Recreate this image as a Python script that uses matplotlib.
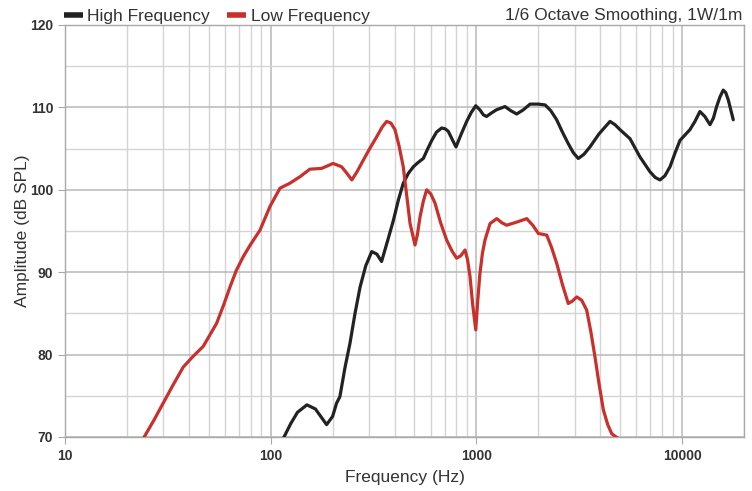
import numpy as np
import matplotlib.pyplot as plt
from matplotlib.ticker import FixedLocator, NullFormatter

plt.rcParams['font.family'] = ['Liberation Sans', 'DejaVu Sans']

# Low frequency driver
lf_freq = [24.0, 27, 30.0, 33.5, 37.6, 42, 47.0, 54.6, 59, 63.4, 68, 73.6, 80, 88.7, 99.3,
           111, 124, 139, 155, 177, 201, 221, 233, 248, 263, 282, 303, 327, 348, 366,
           384, 402, 421, 441, 460, 476, 503, 517, 532, 552, 573, 600, 629, 670, 717,
           760, 802, 840, 881, 906, 931, 960, 993, 1015, 1040, 1070, 1101, 1165, 1256,
           1330, 1404, 1580, 1757, 1880, 2001, 2198, 2320, 2456, 2620, 2797, 2930, 3075,
           3250, 3438, 3600, 3773, 3950, 4142, 4350, 4550, 4900]
lf_db = [69.8, 72.0, 74.1, 76.3, 78.5, 79.8, 81.0, 83.8, 86.0, 88.2, 90.2, 91.9, 93.4, 95.1, 98.0,
         100.2, 100.8, 101.6, 102.5, 102.6, 103.2, 102.8, 102.1, 101.2, 102.2, 103.6, 105.0, 106.4, 107.6, 108.3,
         108.1, 107.3, 105.3, 102.8, 99.0, 95.9, 93.3, 94.6, 96.7, 98.6, 100.0, 99.5, 98.4, 96.0, 93.9,
         92.6, 91.7, 92.0, 92.7, 91.5, 89.5, 86.0, 83.0, 86.5, 89.8, 92.3, 93.9, 95.9, 96.5,
         96.0, 95.7, 96.1, 96.5, 95.7, 94.7, 94.5, 93.0, 91.1, 88.5, 86.2, 86.5, 87.0,
         86.6, 85.4, 82.8, 79.7, 76.4, 73.3, 71.5, 70.4, 69.8]

# High frequency driver
hf_freq = [115, 125, 135, 150, 165, 187, 200, 209, 217, 230, 243, 257, 272, 290, 310,
           328, 346, 370, 395, 418, 441, 467, 494, 520, 552, 578, 607, 640, 678, 705,
           730, 760, 796, 845, 897, 945, 993, 1040, 1081, 1121, 1180, 1250, 1377, 1470,
           1570, 1690, 1824, 2000, 2159, 2300, 2456, 2620, 2797, 2960, 3128, 3330, 3565,
           3950, 4463, 4720, 4990, 5583, 6237, 6977, 7400, 7810, 8250, 8738, 9250, 9770,
           10920, 11550, 12210, 12900, 13670, 14200, 14720, 15300, 15850, 16300, 16780,
           17250, 17730]
hf_db = [69.8, 71.6, 73.0, 73.9, 73.4, 71.5, 72.5, 74.1, 74.9, 78.5, 81.4, 85.0, 88.2, 90.8, 92.5,
         92.2, 91.3, 93.8, 96.3, 98.8, 100.8, 102.0, 102.8, 103.3, 103.8, 104.9, 106.0, 107.0, 107.5, 107.4,
         107.1, 106.2, 105.2, 106.8, 108.3, 109.4, 110.2, 109.7, 109.1, 108.9, 109.3, 109.7, 110.1, 109.6,
         109.2, 109.7, 110.4, 110.4, 110.3, 109.6, 108.5, 107.0, 105.6, 104.5, 103.8, 104.3, 105.2,
         106.8, 108.3, 107.9, 107.3, 106.2, 104.0, 102.2, 101.5, 101.2, 101.7, 102.8, 104.5, 106.0,
         107.3, 108.3, 109.5, 108.9, 107.9, 108.7, 110.1, 111.3, 112.1, 111.8, 110.9,
         109.7, 108.5]

red = '#c9302c'
black = '#222222'

fig = plt.figure(figsize=(7.52, 4.91), dpi=100)
ax = fig.add_axes([65 / 752, 54 / 491, 679 / 752, 412 / 491])

ax.plot(hf_freq, hf_db, color=black, lw=2.3, solid_capstyle='round',
        solid_joinstyle='round', label='High Frequency', zorder=3)
ax.plot(lf_freq, lf_db, color=red, lw=2.3, solid_capstyle='round',
        solid_joinstyle='round', label='Low Frequency', zorder=3)

ax.set_xscale('log')
ax.set_xlim(10, 20000)
ax.set_ylim(70, 120)

ax.xaxis.set_major_locator(FixedLocator([10, 100, 1000, 10000]))
ax.set_xticklabels(['10', '100', '1000', '10000'])
minor = [m * d for d in [10, 100, 1000, 10000] for m in range(2, 10) if m * d <= 20000]
ax.xaxis.set_minor_locator(FixedLocator(minor))
ax.xaxis.set_minor_formatter(NullFormatter())
ax.set_yticks([70, 80, 90, 100, 110, 120])
ax.set_yticks([75, 85, 95, 105, 115], minor=True)

ax.grid(True, which='major', color='#b8b8b8', lw=1.1)
ax.grid(True, which='minor', color='#d4d4d4', lw=1.0)
ax.set_axisbelow(True)

for s in ax.spines.values():
    s.set_color('#a8a8a8')
    s.set_linewidth(1.0)

ax.tick_params(axis='both', which='major', length=5, color='#a8a8a8', labelsize=10,
               labelcolor='#333333')
ax.tick_params(axis='x', which='major', pad=4)
ax.tick_params(axis='both', which='minor', length=0)
for lbl in ax.get_xticklabels() + ax.get_yticklabels():
    lbl.set_fontweight('bold')

ax.set_xlabel('Frequency (Hz)', fontsize=12.5, color='#333333', labelpad=5)
ax.set_ylabel('Amplitude (dB SPL)', fontsize=12.5, color='#333333', labelpad=0)

leg = ax.legend(loc='lower left', bbox_to_anchor=(-0.002, 1.003), ncol=2, frameon=False,
                fontsize=12.5, handlelength=1.1, handletextpad=0.25, columnspacing=1.0,
                borderaxespad=0, borderpad=0, labelcolor='#333333')
for h in leg.get_lines():
    h.set_linewidth(4)
    h.set_solid_capstyle('butt')
ax.text(0.997, 1.006, '1/6 Octave Smoothing, 1W/1m', transform=ax.transAxes,
        ha='right', va='bottom', fontsize=12.5, color='#333333')

fig.savefig('out.png', dpi=100)
